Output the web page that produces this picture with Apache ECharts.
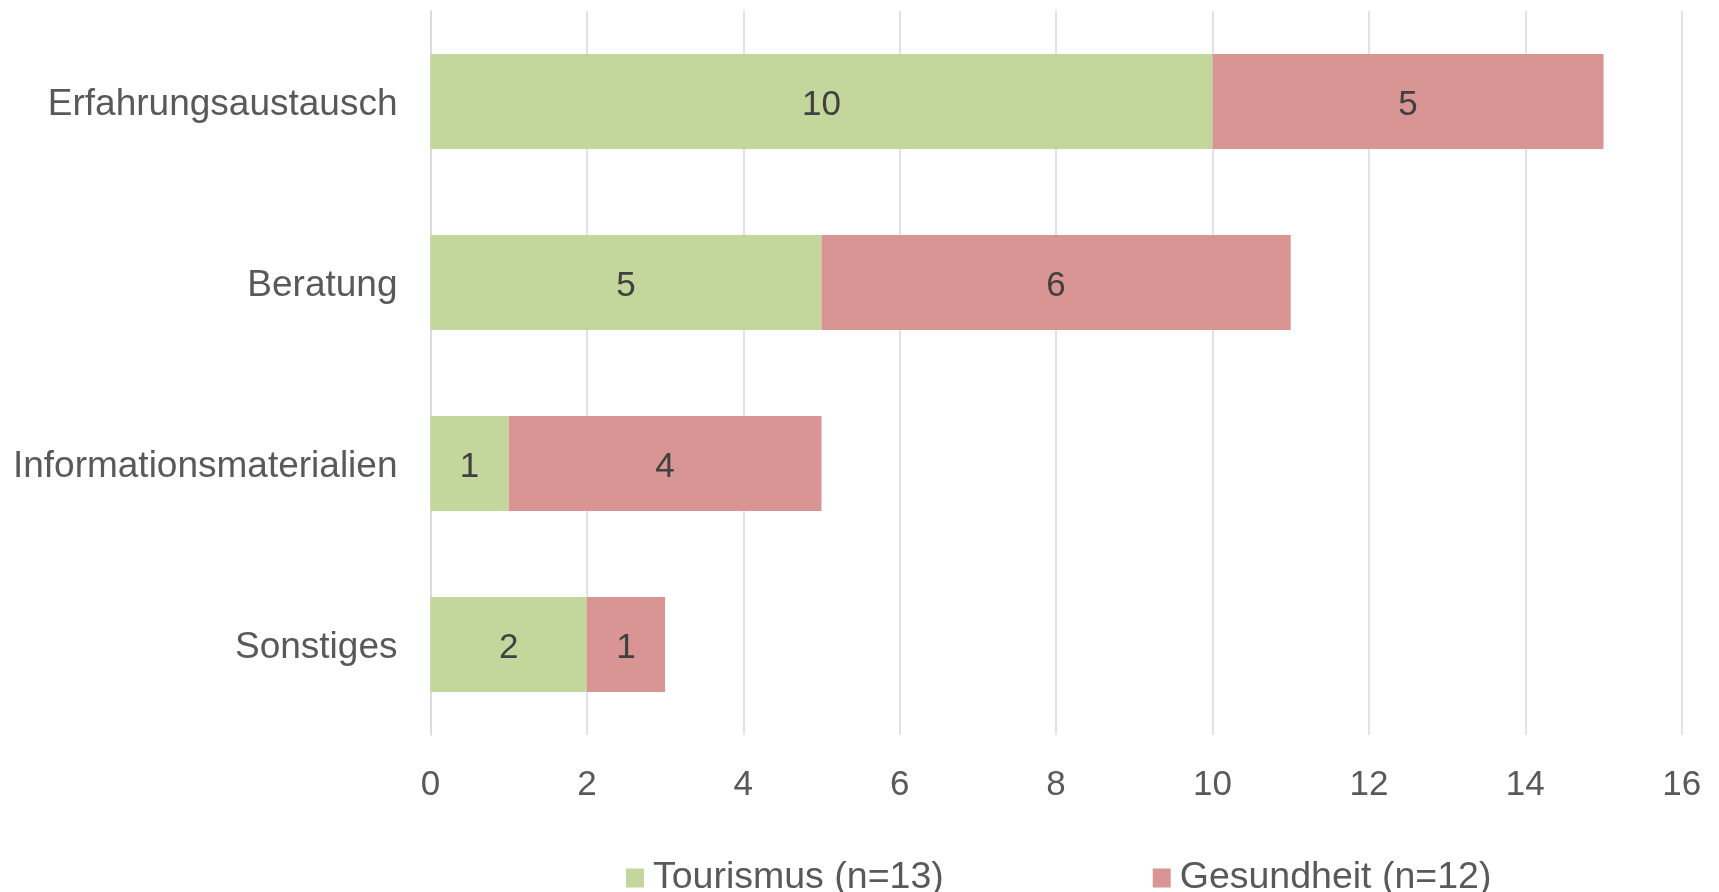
<!DOCTYPE html>
<html>
<head>
<meta charset="utf-8">
<script src="https://cdn.jsdelivr.net/npm/echarts@6/dist/echarts.min.js"></script>
<style>
html,body{margin:0;padding:0;background:#fff;}
#main{width:1719px;height:892px;}
</style>
</head>
<body>
<div id="main"></div>
<script>
const categories = ['Erfahrungsaustausch', 'Beratung', 'Informationsmaterialien', 'Sonstiges'];
const seriesNames = ['Tourismus (n=13)', 'Gesundheit (n=12)'];
const tourismus = [10, 5, 1, 2];
const gesundheit = [5, 6, 4, 1];
const xTicks = { min: 0, max: 16, interval: 2 };

const chart = echarts.init(document.getElementById('main'), null, { renderer: 'canvas' });
const font = '"Liberation Sans", Arial, sans-serif';
const labelStyle = {
  show: true,
  position: 'inside',
  color: '#404040',
  fontSize: 35,
  fontFamily: font,
  offset: [0, 4]
};
chart.setOption({
  animation: false,
  backgroundColor: '#ffffff',
  grid: { left: 430.5, right: 37.3, top: 11, bottom: 157, containLabel: false },
  xAxis: {
    type: 'value',
    min: xTicks.min, max: xTicks.max, interval: xTicks.interval,
    axisLine: { show: false },
    axisTick: { show: false },
    axisLabel: { color: '#595959', fontSize: 35, fontFamily: font, margin: 33 },
    splitLine: { show: true, lineStyle: { color: '#D9D9D9', width: 1.5 } }
  },
  yAxis: {
    type: 'category',
    data: categories,
    inverse: true,
    axisLine: { show: true, lineStyle: { color: '#D9D9D9', width: 1.5 } },
    axisTick: { show: false },
    axisLabel: {
      color: '#595959', fontSize: 37, fontFamily: font, margin: 33,
      formatter: '{c|{value}}',
      rich: { c: { color: '#595959', fontSize: 37, fontFamily: font, padding: [6, 0, 0, 0] } }
    }
  },
  legend: {
    data: seriesNames,
    left: 621,
    top: 854,
    itemWidth: 18,
    itemHeight: 19,
    itemGap: 209,
    icon: 'rect',
    textStyle: { color: '#595959', fontSize: 37.5, fontFamily: font, padding: [3, 0, 0, 4] }
  },
  series: [
    {
      name: seriesNames[0],
      type: 'bar',
      stack: 'total',
      data: tourismus,
      barWidth: 95,
      itemStyle: { color: '#C3D69B' },
      label: labelStyle
    },
    {
      name: seriesNames[1],
      type: 'bar',
      stack: 'total',
      data: gesundheit,
      barWidth: 95,
      itemStyle: { color: '#D99594' },
      label: labelStyle
    }
  ]
});
</script>
</body>
</html>
